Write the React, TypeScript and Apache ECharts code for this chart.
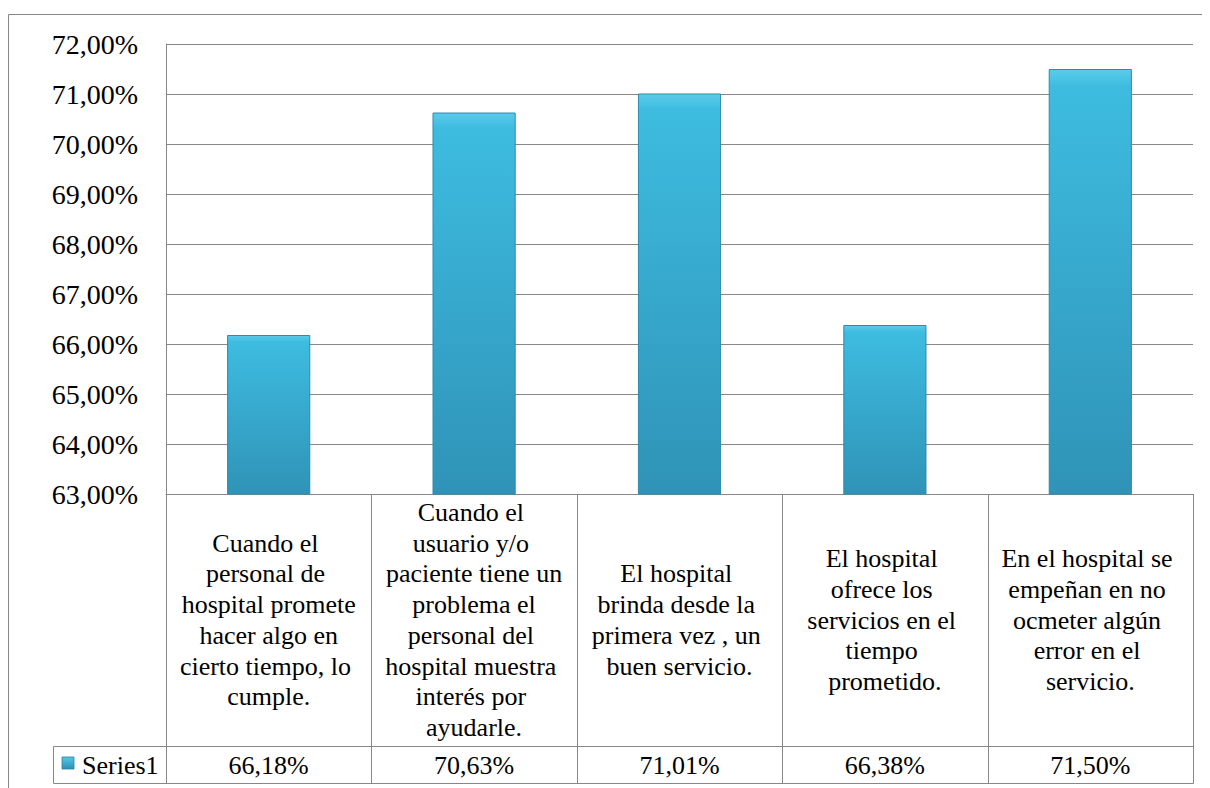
import React, { useEffect, useRef } from "react";
import * as echarts from "echarts";

// ---------- data ----------
const categories: string[] = [
  "Cuando el personal de hospital promete hacer algo en cierto tiempo, lo cumple.",
  "Cuando el usuario y/o paciente tiene un problema el personal del hospital muestra interés por ayudarle.",
  "El hospital brinda desde la primera vez , un buen servicio.",
  "El hospital ofrece los servicios en el tiempo prometido.",
  "En el hospital se empeñan en no ocmeter algún error en el servicio.",
];
const seriesName = "Series1";
const values: number[] = [66.18, 70.63, 71.01, 66.38, 71.5];
const yMin = 63;
const yMax = 72;
const yStep = 1;

// ---------- layout / style (chart div sits at the body's 8px margin) ----------
const CW = 1202;
const CH = 780;
const GRID_LEFT = 158;
const GRID_TOP = 36;
const GRID_RIGHT = 17;
const GRID_BOTTOM = 294;
const ROW1_BOTTOM = 738;
const ROW2_BOTTOM = 775;
const LEGEND_LEFT = 45;
const GRAY = "#878787";
const FONT = "Times New Roman";

const fmt = (v: number) => v.toFixed(2).replace(".", ",") + "%";

function buildOption() {
  return {
    animation: false,
    grid: { left: GRID_LEFT, top: GRID_TOP, right: GRID_RIGHT, bottom: GRID_BOTTOM },
    xAxis: {
      type: "category",
      data: categories,
      axisLine: { show: true, lineStyle: { color: GRAY, width: 1 } },
      axisTick: { show: false },
      axisLabel: { show: false },
    },
    yAxis: {
      type: "value",
      min: yMin,
      max: yMax,
      interval: yStep,
      axisLine: { show: true, lineStyle: { color: GRAY, width: 1 } },
      axisTick: { show: false },
      splitLine: { show: true, lineStyle: { color: GRAY, width: 1 } },
      axisLabel: {
        formatter: (v: number) => fmt(v),
        fontFamily: FONT,
        fontSize: 28,
        color: "#000",
        margin: 28,
      },
    },
    series: [
      {
        type: "bar",
        name: seriesName,
        data: values,
        barWidth: "40.5%",
        itemStyle: {
          color: new echarts.graphic.LinearGradient(0, 0, 0, 1, [
            { offset: 0, color: "#5ccbea" },
            { offset: 0.04, color: "#3dbce0" },
            { offset: 1, color: "#2f93b7" },
          ]),
          borderColor: "#2c8bab",
          borderWidth: 1,
        },
      },
    ],
  };
}

function buildGraphics(chart: any) {
  const xc = categories.map((_, i) => chart.convertToPixel({ xAxisIndex: 0 }, i) as number);
  const cw = xc.length > 1 ? xc[1] - xc[0] : 200;
  const bounds = [xc[0] - cw / 2, ...xc.map((x) => x + cw / 2)];
  const yBase = chart.convertToPixel({ yAxisIndex: 0 }, yMin) as number;
  const right = Math.round(bounds[bounds.length - 1]) + 0.5;
  const ls = { stroke: GRAY, lineWidth: 1 };
  const valY = (ROW1_BOTTOM + ROW2_BOTTOM) / 2 + 1;
  const els: any[] = [];

  els.push({ type: "line", shape: { x1: 0.5, y1: 6.5, x2: CW, y2: 6.5 }, style: ls });
  els.push({ type: "line", shape: { x1: 0.5, y1: 6.5, x2: 0.5, y2: CH }, style: ls });

  bounds.forEach((bx) => {
    const x = Math.round(bx) + 0.5;
    els.push({ type: "line", shape: { x1: x, y1: yBase, x2: x, y2: ROW2_BOTTOM + 0.5 }, style: ls });
  });
  els.push({ type: "line", shape: { x1: LEGEND_LEFT + 0.5, y1: ROW1_BOTTOM + 0.5, x2: right, y2: ROW1_BOTTOM + 0.5 }, style: ls });
  els.push({ type: "line", shape: { x1: LEGEND_LEFT + 0.5, y1: ROW2_BOTTOM + 0.5, x2: right, y2: ROW2_BOTTOM + 0.5 }, style: ls });
  els.push({ type: "line", shape: { x1: LEGEND_LEFT + 0.5, y1: ROW1_BOTTOM + 0.5, x2: LEGEND_LEFT + 0.5, y2: ROW2_BOTTOM + 0.5 }, style: ls });

  const catY = (yBase + ROW1_BOTTOM) / 2;
  categories.forEach((c, i) => {
    els.push({
      type: "text",
      style: {
        text: c,
        x: xc[i],
        y: catY,
        width: 180,
        overflow: "break",
        lineHeight: 30.7,
        fontFamily: FONT,
        fontSize: 26,
        fill: "#000",
        textAlign: "center",
        textVerticalAlign: "middle",
      },
    });
  });

  values.forEach((v, i) => {
    els.push({
      type: "text",
      style: {
        text: fmt(v),
        x: xc[i],
        y: valY,
        fontFamily: FONT,
        fontSize: 26,
        fill: "#000",
        textAlign: "center",
        textVerticalAlign: "middle",
      },
    });
  });

  els.push({
    type: "rect",
    shape: { x: 54, y: 749, width: 12, height: 12 },
    style: {
      fill: new echarts.graphic.LinearGradient(0, 0, 0, 1, [
        { offset: 0, color: "#55c8e8" },
        { offset: 1, color: "#2e8fb2" },
      ]),
      stroke: "#2a819f",
      lineWidth: 0.8,
    },
  });
  els.push({
    type: "text",
    style: {
      text: seriesName,
      x: 74,
      y: valY,
      fontFamily: FONT,
      fontSize: 26,
      fill: "#000",
      textAlign: "left",
      textVerticalAlign: "middle",
    },
  });
  return els;
}

export default function App() {
  const ref = useRef<HTMLDivElement>(null);
  useEffect(() => {
    const chart = echarts.init(ref.current!, null, { renderer: "svg" });
    chart.setOption(buildOption() as any);
    chart.setOption({ graphic: buildGraphics(chart) } as any);
    return () => chart.dispose();
  }, []);
  return <div ref={ref} style={{ width: CW, height: CH }} />;
}
